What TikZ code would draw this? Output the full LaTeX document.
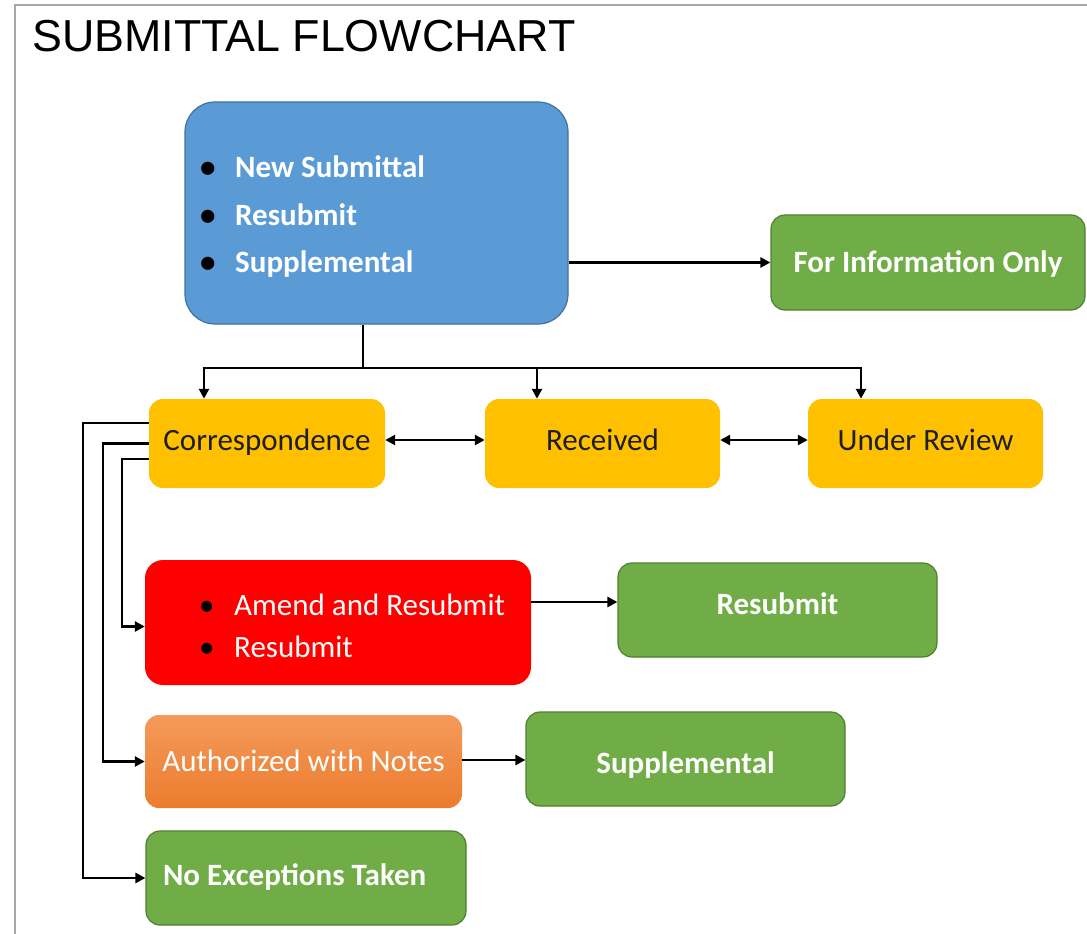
\documentclass[tikz,border=0pt]{standalone}
\usepackage{fontspec}
\setmainfont{Carlito}
\newfontfamily\titlefont{Liberation Sans}
\usetikzlibrary{arrows.meta}
\definecolor{cblue}{HTML}{5B9BD5}
\definecolor{cblued}{HTML}{41719C}
\definecolor{cgrn}{HTML}{70AD47}
\definecolor{cgrnd}{HTML}{507E32}
\definecolor{cyel}{HTML}{FFC000}
\definecolor{cred}{HTML}{FF0000}
\definecolor{corgt}{HTML}{F49A5C}
\definecolor{corgb}{HTML}{EC7C2C}
\definecolor{ctxt}{HTML}{1E1E1E}
\definecolor{cframe}{HTML}{A8A8A8}
\newcommand\bul{\makebox[35pt][l]{\color{black}\textbullet}}
\tikzset{
  sz/.style 2 args={minimum width=#1pt, minimum height=#2pt},
  base/.style={rectangle, inner sep=0pt, text height=21pt, text depth=7pt, font=\fontsize{31}{37}\selectfont},
  yel/.style={base, fill=cyel, rounded corners=14pt, text=ctxt},
  grn/.style={base, fill=cgrn, draw=cgrnd, line width=1.2pt, rounded corners=14pt, text=white, font=\bfseries\fontsize{31}{37}\selectfont},
  bluebox/.style={base, fill=cblue, draw=cblued, line width=1.2pt, rounded corners=30pt},
  redbox/.style={base, fill=cred, rounded corners=18pt},
  orgbox/.style={base, top color=corgt, bottom color=corgb, rounded corners=14pt, text=white},
  bulline/.style={anchor=base west, inner sep=0pt, text=white},
  conn/.style={line width=2.6pt, black},
  arr/.style={conn, -{Triangle[length=10pt,width=10pt]}},
  darr/.style={conn, {Triangle[length=10pt,width=10pt]}-{Triangle[length=10pt,width=10pt]}},
}
\begin{document}
\begin{tikzpicture}[x=1pt,y=1pt]
\useasboundingbox (0,0) rectangle (1087,-934);
\fill[white] (0,0) rectangle (1087,-934);
\draw[cframe, line width=2pt] (15,-934) -- (15,-5) -- (1087,-5);
\node[anchor=base west, inner sep=0pt, font=\titlefont\fontsize{44.8}{50}\selectfont] (title) at (32,-52) {SUBMITTAL FLOWCHART};

% boxes
\node[bluebox, sz={383}{222}] (blue) at (376.5,-213) {};
\node[bulline, font=\bfseries\fontsize{31}{37}\selectfont] (b1) at (200,-177) {\bul New Submittal};
\node[bulline, font=\bfseries\fontsize{31}{37}\selectfont] (b2) at (200,-225) {\bul Resubmit};
\node[bulline, font=\bfseries\fontsize{31}{37}\selectfont] (b3) at (200,-272) {\bul Supplemental};

\node[grn, sz={314}{95}] (info) at (928,-262.5) {\raisebox{-2.5pt}{For Information Only}};

\node[yel, sz={236}{89}] (corr) at (267,-443.5) {Correspondence};
\node[yel, sz={235}{89}] (recv) at (602.5,-443.5) {Received};
\node[yel, sz={235}{89}] (rev) at (925.5,-443.5) {Under Review};

\node[redbox, sz={386}{125}] (red) at (338,-622.5) {};
\node[bulline, font=\fontsize{31}{37}\selectfont] (r1) at (199,-615) {\bul Amend and Resubmit};
\node[bulline, font=\fontsize{31}{37}\selectfont] (r2) at (199,-657) {\bul Resubmit};

\node[grn, sz={319}{94}] (resub) at (777.5,-610) {\raisebox{3pt}{Resubmit}};
\node[orgbox, sz={317}{93}] (auth) at (303.5,-761.5) {\raisebox{-3pt}{Authorized with Notes}};
\node[grn, sz={319}{94}] (supp) at (685.5,-759) {\raisebox{-7pt}{Supplemental}};
\node[grn, sz={320}{94}] (noex) at (306,-878) {\makebox[306pt][l]{\hspace*{10pt}No Exceptions Taken}};

% connectors
\draw[arr] (blue.east |- info.west) -- (info.west);
\coordinate (br) at (363,-368);
\coordinate (brL) at (204,-368);
\coordinate (brM) at (537,-368);
\coordinate (brR) at (861,-368);
\draw[conn] (blue.south -| br) -- (br);
\draw[conn] ([xshift=-1.3pt]brL) -- ([xshift=1.3pt]brR);
\draw[arr] (brL) -- (brL |- corr.north);
\draw[arr] (brM) -- (brM |- recv.north);
\draw[arr] (brR) -- (brR |- rev.north);
\draw[darr] ([yshift=3.5pt]corr.east) -- ([yshift=3.5pt]recv.west);
\draw[darr] ([yshift=3.5pt]recv.east) -- ([yshift=3.5pt]rev.west);

\coordinate (l1) at (83,-600);
\coordinate (l2) at (103,-600);
\coordinate (l3) at (122,-600);
\draw[arr] ([yshift=20.5pt]corr.west) -| (l1) |- (noex.west);
\draw[arr] (corr.west) -| (l2) |- (auth.west);
\draw[arr] ([yshift=-15.5pt]corr.west) -| (l3) |- ([yshift=-4pt]red.west);

\coordinate (rsin) at ([yshift=8pt]resub.west);
\draw[arr] (red.east |- rsin) -- (rsin);
\draw[arr] ([yshift=1.5pt]auth.east) -- ([yshift=1.5pt]auth.east -| supp.west);
\end{tikzpicture}
\end{document}
